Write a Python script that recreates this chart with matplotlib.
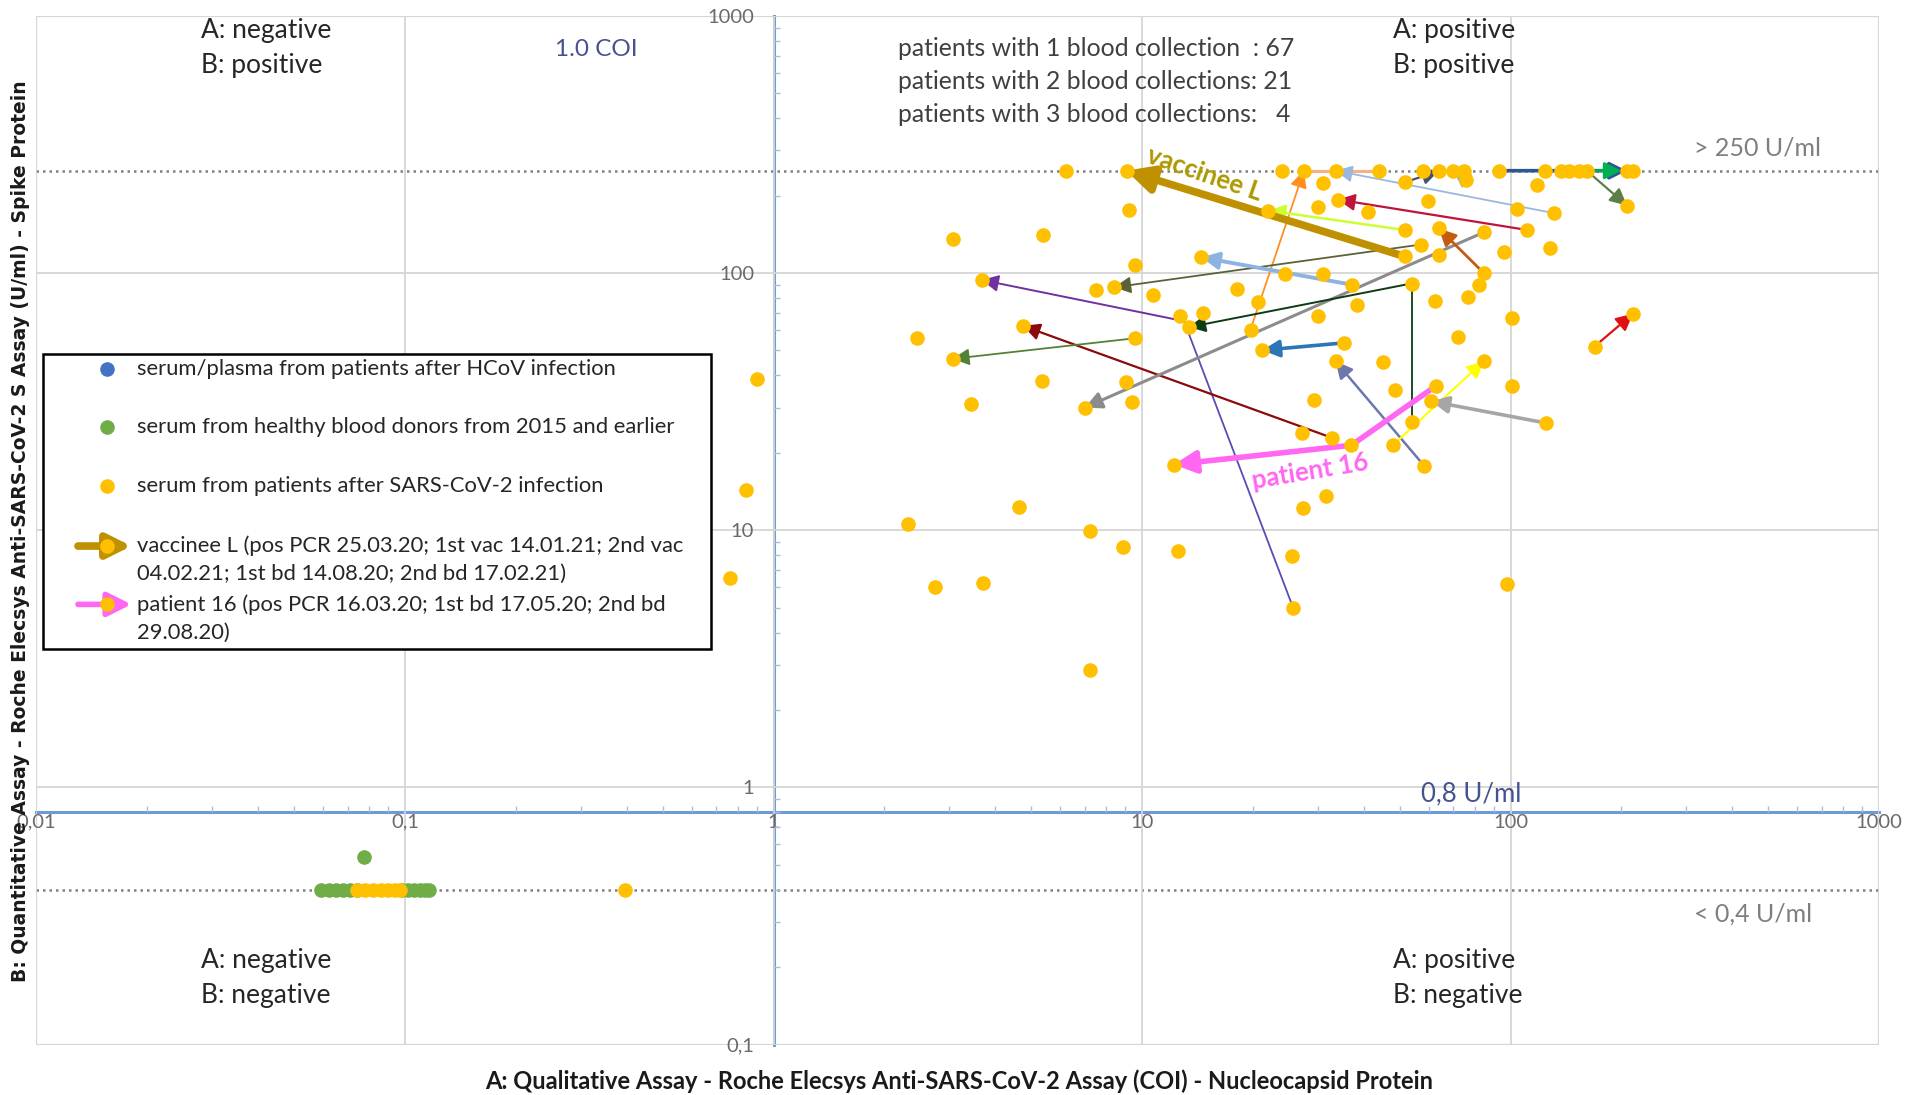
import matplotlib.pyplot as plt
from matplotlib.patches import Rectangle
from matplotlib.ticker import LogLocator, NullFormatter

plt.rcParams['font.family'] = ['Lato', 'DejaVu Sans']

# serum from patients after SARS-CoV-2 infection (A: COI, B: U/ml)
sars_x = [6.2, 9.1, 24, 27.5, 33.5, 44, 58, 64, 70, 75, 93, 124, 137, 144, 153, 161, 207, 215,
          9.2, 5.4, 3.06, 9.6, 14.5, 22, 30, 31, 34, 41, 51.6, 57, 51.6, 51.6, 59.7, 63.9,
          63.9, 54.1, 62.4, 38.4, 37.2, 31, 24.5, 30.1, 18.1, 20.6, 19.7, 21.2, 35.3, 33.5,
          45, 72, 12.7, 14.6, 13.4, 10.7, 8.4, 7.5, 9.6, 75.5, 118, 104, 131, 111, 84.6, 96,
          128, 207, 84.6, 82, 76.7, 101, 84.6, 215, 169, 9.06, 9.4, 29.2, 48.6, 101, 62.9,
          61, 54.1, 47.9, 37.0, 32.7, 27.1, 12.2, 58.3, 125, 27.3, 31.5, 12.5, 25.5, 25.7,
          97.8, 3.67, 4.75, 2.45, 3.06, 3.43, 5.36, 7.0, 4.64, 7.21, 8.9, 2.32, 2.75, 3.7,
          7.21, 0.9, 0.84, 0.76, 0.396,
          0.074, 0.078, 0.082, 0.086, 0.09, 0.094, 0.097]
sars_y = [250, 250, 250, 250, 250, 250, 250, 250, 250, 250, 250, 250, 250, 250, 250, 250, 250, 250,
          176, 141, 136, 107, 115, 175, 181, 223, 193, 173, 147, 129, 116, 225, 191, 149,
          117, 91, 78, 75, 90, 99.5, 99.5, 68, 87, 77, 60.3, 50.1, 53.5, 45.4,
          44.9, 56.5, 68, 70, 61.6, 82, 88, 86, 55.8, 230, 220, 177, 171, 147, 144, 121,
          125, 183, 100, 90, 81, 67, 45.4, 69.5, 51.8, 37.7, 31.4, 32.1, 35, 36.5, 36.5,
          31.7, 26.4, 21.4, 21.4, 22.9, 23.9, 18.0, 17.8, 26.1, 12.2, 13.6, 8.3, 7.96, 5.0,
          6.2, 94, 62.3, 55.8, 46.4, 31, 38, 30, 12.3, 9.9, 8.6, 10.6, 6.0, 6.26,
          2.86, 38.8, 14.3, 6.5, 0.4,
          0.4, 0.4, 0.4, 0.4, 0.4, 0.4, 0.4]

# serum from healthy blood donors from 2015 and earlier
donor_x = [0.059, 0.062, 0.065, 0.068, 0.071, 0.074, 0.098, 0.102, 0.106, 0.11, 0.113, 0.116, 0.0773]
donor_y = [0.4, 0.4, 0.4, 0.4, 0.4, 0.4, 0.4, 0.4, 0.4, 0.4, 0.4, 0.4, 0.535]

# follow-up samples: earlier -> later blood collection
arrow_x0 = [19.7, 51.6, 57, 37.2, 131, 111, 93.4, 136, 161, 32.7, 9.6, 84.6, 84.6, 35.3, 58.3,
            47.9, 125, 169, 13.0, 54.1, 51.6, 75.5]
arrow_y0 = [60.3, 147, 129, 90, 171, 147, 250, 250, 250, 22.9, 55.8, 144, 100, 53.5, 17.8,
            21.4, 26.1, 51.8, 65, 91.2, 225, 230]
arrow_x1 = [27.5, 22, 8.4, 14.5, 33.5, 34, 207, 200, 207, 4.75, 3.06, 7.0, 63.9, 21.2, 33.5,
            84.6, 61, 215, 3.67, 13.4, 64, 70]
arrow_y1 = [250, 175, 88, 115, 250, 193, 250, 250, 183, 62.3, 46.4, 30, 149, 50.1, 45.4,
            45.4, 31.7, 69.5, 94, 61.6, 250, 250]
arrow_colors = ['#FF8F1F', '#CCFF33', '#5B6238', '#8DB3E2', '#9BB7E0', '#C0143C', '#2F5597', '#00B050',
                '#5E7E45', '#8B0A0A', '#548235', '#8C8C8C', '#C55A11', '#2E75B6', '#6C77AC', '#FFFF00',
                '#A6A6A6', '#E01010', '#7030A0', '#0E3B12', '#44546A', '#A9B7A3']
arrow_lw = [1.3, 1.8, 1.3, 2.8, 1.3, 1.6, 2.6, 2.0, 1.6, 1.6, 1.3, 2.2, 2.0, 2.6, 1.8, 1.5,
            2.6, 1.6, 1.4, 1.4, 1.6, 1.6]

# segments without head (first part of 3-sample patients)
seg_x0 = [27.5, 25.7, 54.1]
seg_y0 = [250, 5.0, 26.4]
seg_x1 = [43.7, 13.0, 54.1]
seg_y1 = [250, 65, 91.2]
seg_colors = ['#F4B183', '#5A4BB5', '#0E3B12']
seg_lw = [2.2, 1.3, 1.3]

vacc_x = [51.6, 9.06]
vacc_y = [116, 250]
pat16_x = [62.9, 37.0, 12.2]
pat16_y = [36.5, 21.4, 18.0]

GOLD = '#BF9000'
PINK = '#FF66F2'
YEL = '#FFC000'
MS = 10.5

fig = plt.figure(figsize=(19.07, 10.95), dpi=100)
ax = fig.add_axes([0.01914, 0.04603, 0.9662, 0.9395])
ax.set_xscale('log')
ax.set_yscale('log')
ax.set_xlim(0.01, 1000)
ax.set_ylim(0.1, 1000)

ax.grid(True, which='major', color='#D6D6D6', lw=1.3, zorder=0)
ax.add_patch(Rectangle((0, 0), 1, 1, transform=ax.transAxes, fill=False,
                       ec='#D6D6D6', lw=1.6, zorder=0.5))

for s in ['top', 'right']:
    ax.spines[s].set_visible(False)
ax.spines['left'].set_position(('data', 1))
ax.spines['bottom'].set_position(('data', 0.8))
for s in ['left', 'bottom']:
    ax.spines[s].set_color('#6E9BD6')
    ax.spines[s].set_linewidth(2.2)
    ax.spines[s].set_zorder(1)

ax.set_xticks([0.01, 0.1, 1, 10, 100, 1000])
ax.set_xticklabels(['0,01', '0,1', '1', '10', '100', '1000'])
ax.set_yticks([0.1, 1, 10, 100, 1000])
ax.set_yticklabels(['0,1', '1', '10', '100', '1000'])
ax.xaxis.set_minor_locator(LogLocator(base=10, subs=range(2, 10)))
ax.yaxis.set_minor_locator(LogLocator(base=10, subs=range(2, 10)))
ax.xaxis.set_minor_formatter(NullFormatter())
ax.yaxis.set_minor_formatter(NullFormatter())
ax.tick_params(axis='x', which='major', length=0, pad=1, labelsize=14.5, labelcolor='#6A6A6A')
ax.tick_params(axis='y', which='major', length=0, pad=14, labelsize=14.5, labelcolor='#6A6A6A')
ax.tick_params(which='minor', direction='in', length=4, color='#A9BEDF', width=1)

# threshold lines
ax.axhline(250, color='#808080', ls=(0, (1, 1.6)), lw=1.8, zorder=1)
ax.axhline(0.4, color='#808080', ls=(0, (1, 1.6)), lw=1.8, zorder=1)

# trajectories
for i in range(len(seg_x0)):
    ax.plot([seg_x0[i], seg_x1[i]], [seg_y0[i], seg_y1[i]], color=seg_colors[i],
            lw=seg_lw[i], zorder=2, solid_capstyle='butt')
for i in range(len(arrow_x0)):
    ax.annotate('', xy=(arrow_x1[i], arrow_y1[i]), xytext=(arrow_x0[i], arrow_y0[i]),
                arrowprops=dict(arrowstyle='-|>,head_length=0.6,head_width=0.3',
                                color=arrow_colors[i], lw=arrow_lw[i], mutation_scale=17,
                                shrinkA=0, shrinkB=0), zorder=2)

ax.plot(pat16_x[:2], pat16_y[:2], color=PINK, lw=4, zorder=3, solid_capstyle='butt')
ax.annotate('', xy=(pat16_x[2], pat16_y[2]), xytext=(pat16_x[1], pat16_y[1]),
            arrowprops=dict(arrowstyle='-|>,head_length=0.6,head_width=0.3', color=PINK, lw=4,
                            mutation_scale=22, shrinkA=0, shrinkB=0), zorder=3)
ax.annotate('', xy=(vacc_x[1], vacc_y[1]), xytext=(vacc_x[0], vacc_y[0]),
            arrowprops=dict(arrowstyle='-|>,head_length=0.6,head_width=0.3', color=GOLD, lw=5.5,
                            mutation_scale=26, shrinkA=0, shrinkB=0), zorder=3)

# points
ax.plot(donor_x, donor_y, 'o', color='#70AD47', ms=MS, mec='none', zorder=4)
ax.plot(sars_x, sars_y, 'o', color=YEL, ms=MS, mec='none', zorder=5)

ax.text(14.8, 243, 'vaccinee L', color='#AD9A00', fontsize=18.5, fontweight='bold',
        rotation=-19, rotation_mode='anchor', ha='center', va='center', zorder=6)
ax.text(28.5, 17.0, 'patient 16', color=PINK, fontsize=18.5, fontweight='bold',
        rotation=9.5, rotation_mode='anchor', ha='center', va='center', zorder=6)

# annotation texts (axes fraction)
tk = dict(transform=ax.transAxes, fontsize=19, va='center', ha='left', color='#262626')
ax.text(0.0891, 0.9858, 'A: negative', **tk)
ax.text(0.0891, 0.9515, 'B: positive', **tk)
ax.text(0.736, 0.9858, 'A: positive', **tk)
ax.text(0.736, 0.9515, 'B: positive', **tk)
ax.text(0.0891, 0.0816, 'A: negative', **tk)
ax.text(0.0891, 0.0473, 'B: negative', **tk)
ax.text(0.736, 0.0816, 'A: positive', **tk)
ax.text(0.736, 0.0473, 'B: negative', **tk)
ax.text(0.2812, 0.9669, '1.0 COI', transform=ax.transAxes, fontsize=17.5, va='center', color='#46528F')
ax.text(0.7512, 0.2435, '0,8 U/ml', transform=ax.transAxes, fontsize=18.5, va='center', color='#46528F')
ax.text(0.8997, 0.8712, '> 250 U/ml', transform=ax.transAxes, fontsize=18, va='center', color='#7F7F7F')
ax.text(0.8997, 0.1265, '< 0,4 U/ml', transform=ax.transAxes, fontsize=18, va='center', color='#7F7F7F')
pk = dict(transform=ax.transAxes, fontsize=17.8, va='center', ha='left', color='#404040')
ax.text(0.4673, 0.9681, 'patients with 1 blood collection  : 67', **pk)
ax.text(0.4673, 0.9362, 'patients with 2 blood collections: 21', **pk)
ax.text(0.4673, 0.9043, 'patients with 3 blood collections:   4', **pk)

# legend box
ax.add_patch(Rectangle((0.0033, 0.3842), 0.363, 0.2872, transform=ax.transAxes,
                       fc='white', ec='black', lw=1.8, zorder=7))
lt = dict(transform=ax.transAxes, fontsize=15.8, va='center', ha='left', color='#262626', zorder=8)
ax.plot([0.0383], [0.6572], 'o', color='#4472C4', ms=MS, mec='none', transform=ax.transAxes, zorder=8)
ax.plot([0.0383], [0.6005], 'o', color='#70AD47', ms=MS, mec='none', transform=ax.transAxes, zorder=8)
ax.plot([0.0383], [0.5426], 'o', color=YEL, ms=MS, mec='none', transform=ax.transAxes, zorder=8)
ax.text(0.0548, 0.6572, 'serum/plasma from patients after HCoV infection', **lt)
ax.text(0.0548, 0.6005, 'serum from healthy blood donors from 2015 and earlier', **lt)
ax.text(0.0548, 0.5426, 'serum from patients after SARS-CoV-2 infection', **lt)
for yy, col, lw_ in [(0.4846, GOLD, 5.5), (0.4279, PINK, 4)]:
    ax.annotate('', xy=(0.0515, yy), xytext=(0.0225, yy), xycoords='axes fraction',
                arrowprops=dict(arrowstyle='-|>,head_length=0.6,head_width=0.3', color=col,
                                lw=lw_, mutation_scale=24, shrinkA=0, shrinkB=0), zorder=8)
    ax.plot([0.0383], [yy], 'o', color=YEL, ms=MS, mec='none', transform=ax.transAxes, zorder=9)
ax.text(0.0548, 0.4846, 'vaccinee L (pos PCR 25.03.20; 1st vac 14.01.21; 2nd vac', **lt)
ax.text(0.0548, 0.4574, '04.02.21; 1st bd 14.08.20; 2nd bd 17.02.21)', **lt)
ax.text(0.0548, 0.4279, 'patient 16 (pos PCR 16.03.20; 1st bd 17.05.20; 2nd bd', **lt)
ax.text(0.0548, 0.4007, '29.08.20)', **lt)

# axis titles
fig.text(0.0105, 0.515, 'B: Quantitative Assay - Roche Elecsys Anti-SARS-CoV-2 S Assay (U/ml) - Spike Protein',
         rotation=90, ha='center', va='center', fontsize=13.5, fontweight='bold',
         family='DejaVu Sans', color='#1A1A1A')
fig.text(0.503, 0.0128, 'A: Qualitative Assay - Roche Elecsys Anti-SARS-CoV-2 Assay (COI) - Nucleocapsid Protein',
         ha='center', va='center', fontsize=17, fontweight='bold', color='#1A1A1A')

fig.savefig('out.png', dpi=100)
